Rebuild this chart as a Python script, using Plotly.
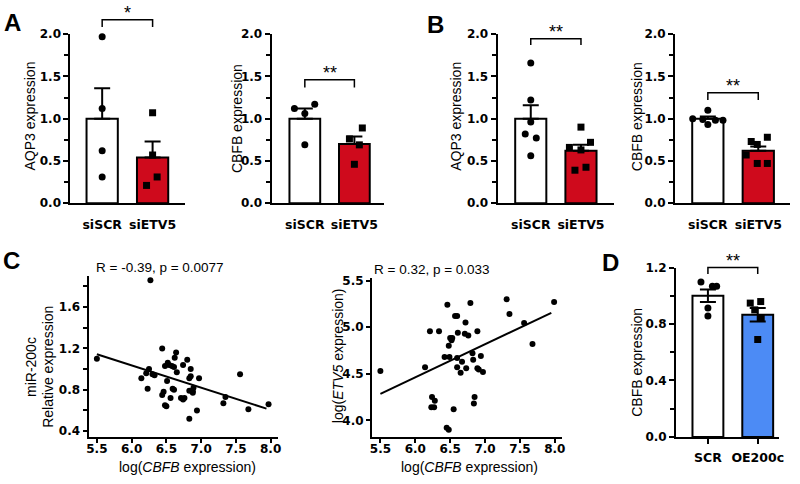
import plotly.graph_objects as go

W, H = 800, 484
FONT = "Liberation Sans"
TICKFONT = "DejaVu Sans"
RED = "#CF0A1C"
BLUE = "#4C8BF5"

# ---------------- data ----------------
cats_si = ["siSCR", "siETV5"]
cats_d = ["SCR", "OE200c"]

# A - AQP3
a1_means = [1.00, 0.54]
a1_sems = [0.36, 0.19]
a1_scr = [1.97, 1.12, 0.62, 0.31]
a1_etv5 = [1.07, 0.57, 0.31, 0.21]
# A - CBFB
a2_means = [1.00, 0.70]
a2_sems = [0.12, 0.09]
a2_scr = [1.12, 1.17, 1.06, 0.69]
a2_etv5 = [0.89, 0.76, 0.69, 0.46]
# B - AQP3
b1_means = [1.00, 0.62]
b1_sems = [0.16, 0.07]
b1_scr = [1.66, 1.22, 0.96, 0.82, 0.77, 0.56]
b1_etv5 = [0.90, 0.72, 0.66, 0.63, 0.425, 0.39]
# B - CBFB
b2_means = [1.00, 0.62]
b2_sems = [0.025, 0.05]
b2_scr = [1.10, 1.00, 0.99, 0.98, 0.98, 0.93]
b2_etv5 = [0.73, 0.78, 0.695, 0.57, 0.47, 0.47]
# D - CBFB
d_means = [1.00, 0.865]
d_sems = [0.045, 0.048]
d_scr = [1.097, 1.067, 1.067, 0.913, 0.856]
d_oe = [0.948, 0.959, 0.90, 0.845, 0.69]

# C - correlations
c1_x = [5.50, 6.27, 6.44, 6.64, 6.62, 6.80, 6.48, 6.52, 6.54, 6.58, 6.61,
        6.25, 6.21, 6.14, 6.33, 6.30, 6.74, 6.65, 6.85, 6.85, 6.83, 6.97,
        6.51, 6.23, 6.59, 6.61, 6.46, 6.44, 6.56, 6.71, 6.74, 6.76, 6.83,
        6.88, 6.89, 6.88, 6.48, 6.50, 6.94, 6.83, 7.32, 7.35, 7.56, 7.68, 7.97]
c1_y = [1.10, 1.86, 1.20, 1.16, 1.11, 1.09, 1.03, 1.06, 1.04, 1.03, 1.02,
        1.00, 0.96, 0.91, 0.94, 0.95, 1.04, 0.97, 1.00, 0.93, 0.91, 0.91,
        0.885, 0.81, 0.81, 0.80, 0.78, 0.75, 0.72, 0.72, 0.705, 0.72, 0.79,
        0.785, 0.82, 0.77, 0.65, 0.64, 0.60, 0.52, 0.67, 0.73, 0.95, 0.61, 0.66]
c1_fit_x = [5.50, 7.94]
c1_fit_y = [1.143, 0.617]

c2_x = [5.50, 6.14, 6.21, 6.34, 6.24, 6.28, 6.23, 6.27, 6.46, 6.42, 6.49,
        6.48, 6.50, 6.53, 6.52, 6.57, 6.60, 6.61, 6.60, 6.60, 6.65, 6.67,
        6.72, 6.71, 6.76, 6.73, 6.79, 6.82, 6.83, 6.85, 6.84, 6.89, 6.89,
        6.91, 6.94, 6.97, 6.55, 6.45, 6.48, 7.31, 7.35, 7.56, 7.68, 7.99]
c2_y = [4.53, 4.57, 4.955, 4.955, 4.25, 4.21, 4.14, 4.14, 5.24, 4.68, 4.68,
        4.80, 4.885, 4.885, 4.86, 5.12, 5.12, 4.94, 4.67, 4.57, 4.51, 4.63,
        5.05, 4.93, 4.91, 4.56, 5.26, 4.72, 4.65, 4.25, 4.18, 4.955, 4.56,
        4.545, 4.69, 4.52, 4.12, 3.92, 3.90, 5.30, 5.14, 5.045, 4.82, 5.27]
c2_fit_x = [5.50, 7.95]
c2_fit_y = [4.285, 5.153]

stars_a1, stars_a2, stars_b1, stars_b2, stars_d = "*", "**", "**", "**", "**"

# ------------- layout helpers (positions/styles) -------------
def xdom(p0, p1):
    return [p0 / W, p1 / W]

def ydom(top, bot):
    return [1 - bot / H, 1 - top / H]

def px(x):
    return x / W

def py(y):
    return 1 - y / H

fig = go.Figure()
layout = dict(
    width=W, height=H, margin=dict(l=0, r=0, t=0, b=0),
    paper_bgcolor="white", plot_bgcolor="white", showlegend=False,
    font=dict(family=FONT, color="black"),
)
shapes, annotations = [], []

def text_at(x, y, text, size=14, angle=0, xanchor="center"):
    annotations.append(dict(x=px(x), y=py(y), xref="paper", yref="paper",
                            text=text, showarrow=False, textangle=angle,
                            xanchor=xanchor, yanchor="middle", borderpad=0,
                            font=dict(size=size)))

def axis_common():
    return dict(showline=True, linecolor="black", linewidth=2, showgrid=False,
                zeroline=False, ticks="outside", tickcolor="black", tickwidth=2,
                ticklen=5)

TICKF = dict(family=TICKFONT, size=12, weight="bold")
CATF = dict(family=TICKFONT, size=12.5, weight="bold")

def bar_panel(n, cats, means, sems, grp0, grp1, off0, off1, fill, sym1,
              xd, yd, xr, yr, ydtick, yminor, symmetric, showxticks,
              br_y, br_drop, stars):
    xa = "x" if n == 1 else f"x{n}"
    ya = "y" if n == 1 else f"y{n}"
    fig.add_trace(go.Bar(
        x=[0, 1], y=means, width=0.62, xaxis=xa, yaxis=ya,
        marker=dict(color=["white", fill], line=dict(color="black", width=2)),
        error_y=dict(type="data", array=sems,
                     arrayminus=sems if symmetric else [0, 0],
                     symmetric=False, color="black", thickness=2, width=8),
        hoverinfo="skip"))
    fig.add_trace(go.Scatter(
        x=[o for o in off0], y=grp0, mode="markers", xaxis=xa, yaxis=ya,
        cliponaxis=False, marker=dict(color="black", size=7, symbol="circle")))
    fig.add_trace(go.Scatter(
        x=[1 + o for o in off1], y=grp1, mode="markers", xaxis=xa, yaxis=ya,
        cliponaxis=False, marker=dict(color="black", size=7, symbol=sym1)))
    xk = "xaxis" if n == 1 else f"xaxis{n}"
    yk = "yaxis" if n == 1 else f"yaxis{n}"
    xax = axis_common()
    xax.update(domain=xd, range=xr, anchor=ya, tickvals=[0, 1], ticktext=cats,
               tickfont=CATF, ticklabelstandoff=3 if showxticks else 9,
               ticks="outside" if showxticks else "")
    yax = axis_common()
    yax.update(domain=yd, range=yr, anchor=xa, dtick=ydtick, tickformat=".1f",
               tickfont=TICKF,
               minor=dict(ticks="outside", dtick=yminor, ticklen=4, tickwidth=2,
                          tickcolor="black"))
    layout[xk] = xax
    layout[yk] = yax
    # significance bracket (in axis-domain coordinates)
    fx = lambda v: (v - xr[0]) / (xr[1] - xr[0])
    fy = lambda v: (v - yr[0]) / (yr[1] - yr[0])
    ref = dict(xref=f"{xa} domain", yref=f"{ya} domain")
    path = (f"M {fx(0)} {fy(br_drop)} L {fx(0)} {fy(br_y)} "
            f"L {fx(1)} {fy(br_y)} L {fx(1)} {fy(br_drop)}")
    shapes.append(dict(type="path", path=path, line=dict(color="black", width=1.5), **ref))
    annotations.append(dict(x=fx(0.5), y=fy(br_y), text=stars, showarrow=False,
                            xanchor="center", yanchor="bottom", font=dict(size=18),
                            yshift=-5, **ref))

bar_panel(1, cats_si, a1_means, a1_sems, a1_scr, a1_etv5,
          [0, 0, 0, 0], [0, 0, 0.09, -0.12], RED, "square",
          xdom(69, 185), ydom(28, 202), [-0.63, 1.65], [0, 2], 0.5, 0.25,
          False, False, 2.17, 2.085, stars_a1)
bar_panel(2, cats_si, a2_means, a2_sems, a2_scr, a2_etv5,
          [-0.21, 0.2, 0, 0], [0.16, -0.1, 0.1, 0], RED, "square",
          xdom(272, 385), ydom(28, 202), [-0.67, 1.59], [0, 2], 0.5, 0.25,
          False, False, 1.46, 1.37, stars_a2)
bar_panel(3, cats_si, b1_means, b1_sems, b1_scr, b1_etv5,
          [0, 0, 0, -0.11, 0.11, 0], [0, 0.19, -0.23, 0, 0.1, -0.12], RED, "square",
          xdom(500, 617), ydom(28, 202), [-0.66, 1.65], [0, 2], 0.5, 0.25,
          False, False, 1.946, 1.873, stars_b1)
bar_panel(4, cats_si, b2_means, b2_sems, b2_scr, b2_etv5,
          [0, -0.3, -0.1, 0.15, 0.3, 0], [-0.14, 0.18, -0.02, -0.24, -0.02, 0.18], RED, "square",
          xdom(679, 795), ydom(28, 202), [-0.65, 1.63], [0, 2], 0.5, 0.25,
          False, False, 1.307, 1.222, stars_b2)
bar_panel(7, cats_d, d_means, d_sems, d_scr, d_oe,
          [-0.14, 0.09, 0.175, 0, 0], [-0.15, 0.06, -0.06, 0.07, 0], BLUE, "square",
          xdom(680, 784), ydom(268.3, 442.7), [-0.64, 1.43], [0, 1.2], 0.4, 0.2,
          True, True, 1.2, 1.154, stars_d)

# ---------------- scatter panels ----------------
def scatter_panel(n, xs, ys, fx_, fy_, xd, yd, xr, yr, ydtick, yminor):
    xa, ya = f"x{n}", f"y{n}"
    fig.add_trace(go.Scatter(x=xs, y=ys, mode="markers", xaxis=xa, yaxis=ya,
                             cliponaxis=False,
                             marker=dict(color="black", size=6)))
    fig.add_trace(go.Scatter(x=fx_, y=fy_, mode="lines", xaxis=xa, yaxis=ya,
                             line=dict(color="black", width=2)))
    xax = axis_common()
    xax.update(domain=xd, range=xr, anchor=ya, tickvals=[5.5, 6.0, 6.5, 7.0, 7.5, 8.0],
               tickformat=".1f", tickfont=TICKF, ticklen=4, ticklabelstandoff=-4)
    yax = axis_common()
    yax.update(domain=yd, range=yr, anchor=xa, dtick=ydtick, tickformat=".1f",
               tickfont=TICKF, ticklen=4)
    if yminor:
        yax["minor"] = dict(ticks="outside", dtick=yminor, ticklen=4, tickwidth=2,
                            tickcolor="black")
    layout[f"xaxis{n}"] = xax
    layout[f"yaxis{n}"] = yax

scatter_panel(5, c1_x, c1_y, c1_fit_x, c1_fit_y,
              xdom(87.3, 278.3), ydom(276.7, 442.3), [5.38, 8.104], [0.347, 1.904],
              0.4, 0.2)
layout["yaxis5"]["tickvals"] = [0.4, 0.8, 1.2, 1.6]
scatter_panel(6, c2_x, c2_y, c2_fit_x, c2_fit_y,
              xdom(373.3, 565), ydom(279.3, 442.7), [5.38, 8.104], [3.823, 5.525],
              0.5, None)

# axis titles
text_at(28, 112, "AQP3 expression", angle=-90)
text_at(236.5, 115, "CBFB expression", angle=-90)
text_at(458, 112, "AQP3 expression", angle=-90)
text_at(640, 113, "CBFB expression", angle=-90)
text_at(641, 366, "CBFB expression", angle=-90)
text_at(30, 371, "miR-200c", angle=-90)
text_at(47, 371, "Relative expression", angle=-90)
text_at(339, 359.5, "log(<i>ETV5</i> expression)", angle=-90)
text_at(187, 474, "log(<i>CBFB</i> expression)")
text_at(472, 474, "log(<i>CBFB</i> expression)")

# correlation statistics
text_at(159, 268, "R = -0.39, p = 0.0077", size=13.5)
text_at(374, 270, "R = 0.32, p = 0.033", size=13.5, xanchor="left")

# panel letters
for letter, lx, ly in [("A", 1, 16), ("B", 428, 18), ("C", 0, 261), ("D", 604, 263)]:
    text_at(lx, ly, f"<b>{letter}</b>", size=24, xanchor="left")

layout["shapes"] = shapes
layout["annotations"] = annotations
fig.update_layout(**layout)
fig.write_html("out.html", config={"displayModeBar": False},
               post_script="document.body.style.margin='0';")
